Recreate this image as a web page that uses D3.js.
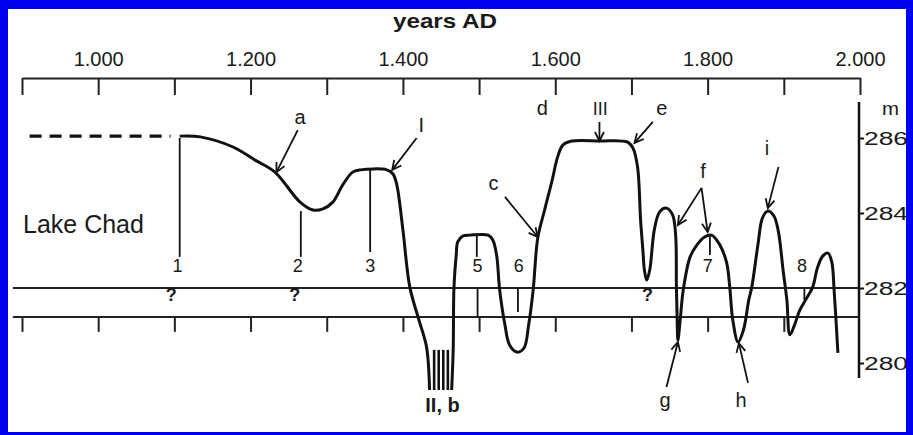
<!DOCTYPE html>
<html>
<head>
<meta charset="utf-8">
<script src="https://cdn.jsdelivr.net/npm/d3@7"></script>
<style>
  html, body { margin: 0; padding: 0; background: #fff; }
  svg { display: block; }
  text { font-family: "Liberation Sans", Arial, Helvetica, sans-serif; fill: #1a1a1a; }
</style>
</head>
<body>
<svg id="chart" width="913" height="435"></svg>
<script>
// ---- data -------------------------------------------------------------
const yearTicks  = [900, 1000, 1100, 1200, 1300, 1400, 1500, 1600, 1700, 1800, 1900, 2000];
const yearLabels = [1000, 1200, 1400, 1600, 1800, 2000];
const levelTicks = [280, 282, 284, 286];

// uncertain early level (dashed)
const dashedYears  = [910, 1095];
const dashedLevels = [286.05, 286.05];

// lake level before the 15th-century low stand (year, m)
const levelYearsA = [1107, 1134, 1177, 1206, 1232, 1265, 1282, 1295, 1308, 1321, 1334, 1344,
                     1379, 1387, 1392, 1400, 1409, 1421, 1431, 1435];
const levelsA     = [286.05, 286.03, 285.76, 285.41, 285.09, 284.29, 284.08, 284.11, 284.29, 284.75, 285.09, 285.15,
                     285.15, 285.04, 284.75, 283.55, 282.03, 281.15, 280.43, 279.28];

// lake level after the low stand
const levelYearsB = [1464, 1466, 1467, 1470, 1472, 1479, 1488, 1512, 1518, 1523, 1527, 1534, 1540, 1550, 1559,
                     1565, 1571, 1577, 1586, 1596, 1603, 1610, 1622, 1658, 1695, 1702, 1708, 1712, 1715, 1717,
                     1720, 1724, 1730, 1737, 1746, 1754, 1758, 1759, 1760, 1761, 1764, 1768, 1777, 1786, 1796,
                     1805, 1816, 1825, 1829, 1833, 1840, 1847, 1854, 1858, 1866, 1872, 1879, 1887, 1893, 1899,
                     1904, 1908, 1914, 1921, 1930, 1938, 1944, 1951, 1958, 1963, 1966, 1971];
const levelsB     = [279.28, 280.35, 282.0, 282.88, 283.23, 283.39, 283.41, 283.41, 283.28, 282.88, 281.95, 281.01, 280.48, 280.29, 280.4,
                     281.01, 281.95, 283.33, 284.08, 284.88, 285.49, 285.81, 285.92, 285.92, 285.89, 285.73, 285.23, 283.81, 283.01, 282.48,
                     282.21, 282.48, 283.55, 284.03, 284.13, 283.95, 283.41, 282.03, 281.15, 280.61, 281.15, 281.95, 282.83, 283.15, 283.36,
                     283.41, 283.15, 282.67, 282.03, 281.15, 280.56, 280.88, 281.68, 282.03, 283.15, 283.87, 284.05, 283.92, 283.49, 282.48,
                     281.68, 280.75, 281.01, 281.41, 281.73, 282.03, 282.53, 282.85, 282.93, 282.69, 281.95, 280.27];

// hatching of the low stand (II, b)
const hatchYears = [1441, 1447, 1453, 1459];
const hatchRange = [279.28, 280.35];

// reference levels
const refLevel  = 282.0;
const baseLevel = 281.23;
const lineYears = [888, 2000];

// numbered dated sites: year, top level, bottom level
const siteNames  = ["1", "2", "3", "5", "6", "7", "8", ""];
const siteYears  = [1107, 1266, 1357, 1497, 1551, 1803, 1927, 1498];
const siteTops   = [286.0, 284.05, 285.15, 283.41, 282.0, 283.41, 282.0, 282.0];
const siteBottoms= [282.83, 282.83, 282.96, 282.83, 281.36, 282.88, 281.68, 281.23];
const siteLabelYears = [1104, 1262, 1357, 1498, 1552, 1800, 1924];
const labelLevel = 282.43;

// uncertain dates
const queryYears = [1096, 1258, 1721];
const queryLevel = 281.66;

// lettered events: text position and arrow
const noteNames  = ["a", "I", "d", "III", "e", "c", "f", "i", "g", "h", "II, b"];
const noteYears  = [1265, 1424, 1583, 1659, 1740, 1519, 1794, 1878, 1744, 1844, 1452];
const noteLevels = [286.37, 286.16, 286.61, 286.61, 286.61, 284.61, 284.93, 285.55, 278.83, 278.83, 278.69];
const arrowFrom  = [[1262, 286.21], [1418, 286.0], null, [1658, 286.43], [1728, 286.43], [1534, 284.43],
                    [1792, 284.67], [1893, 285.23], [1746, 279.36], [1853, 279.47], null];
const arrowTo    = [[1234, 285.09], [1386, 285.15], null, [1658, 285.92], [1704, 285.87], [1577, 283.36],
                    [1761, 283.68], [1879, 284.13], [1761, 280.56], [1841, 280.53], null];
const arrowTo2   = [null, null, null, null, null, null, [1800, 283.49], null, null, null, null];

const lakeName = "Lake Chad";
const xTitle = "years AD";
const yUnit = "m";

// ---- layout -----------------------------------------------------------
const W = 913, H = 435;
const svg = d3.select("#chart");
const x = d3.scaleLinear().domain([900, 2000]).range([22, 860]);
const y = d3.scaleLinear().domain([280, 286]).range([363, 138]);
const ink = "#111";

svg.append("rect").attr("width", W).attr("height", H).attr("fill", "#fff");

// reference lines
[refLevel, baseLevel].forEach(lv => {
  svg.append("line")
    .attr("x1", x(lineYears[0])).attr("x2", x(lineYears[1]))
    .attr("y1", y(lv)).attr("y2", y(lv))
    .attr("stroke", "#222").attr("stroke-width", 2);
});

// top time axis
const de = d3.formatLocale({decimal: ",", thousands: ".", grouping: [3], currency: ["", "€"]});
const fmt = de.format(",d");
const topAxis = d3.axisTop(x)
  .tickValues(yearTicks)
  .tickSizeInner(-17).tickSizeOuter(0).tickPadding(12)
  .tickFormat(d => yearLabels.includes(d) ? fmt(d) : "");
const gTop = svg.append("g").attr("transform", "translate(0,78)").call(topAxis);
gTop.select(".domain").attr("stroke", "#222").attr("stroke-width", 2);
gTop.selectAll(".tick line").attr("stroke", "#222").attr("stroke-width", 2);
gTop.selectAll(".tick text").attr("font-size", 20).attr("fill", "#1a1a1a")
  .style("font-family", "'Liberation Sans', Arial, sans-serif");

svg.append("text").attr("x", 445).attr("y", 28).attr("text-anchor", "middle")
  .attr("font-size", 21).attr("font-weight", "bold")
  .attr("textLength", 104).attr("lengthAdjust", "spacingAndGlyphs")
  .text(xTitle);

// lower time ticks
const botAxis = d3.axisBottom(x)
  .tickValues(yearTicks.filter(d => d < 2000))
  .tickSizeInner(15).tickSizeOuter(0).tickFormat("");
const gBot = svg.append("g").attr("transform", `translate(0,${y(baseLevel)})`).call(botAxis);
gBot.select(".domain").remove();
gBot.selectAll(".tick line").attr("stroke", "#222").attr("stroke-width", 2);

// right level axis
const rightAxis = d3.axisRight(y).tickValues(levelTicks).tickSize(5).tickPadding(0)
  .tickFormat(d3.format("d"));
const gRight = svg.append("g").attr("transform", "translate(859,0)").call(rightAxis);
gRight.select(".domain").remove();
gRight.append("line").attr("x1", 0).attr("x2", 0)
  .attr("y1", y(286.96)).attr("y2", y(279.6))
  .attr("stroke", "#111").attr("stroke-width", 2.5);
gRight.selectAll(".tick line").attr("stroke", "#111").attr("stroke-width", 2);
gRight.selectAll(".tick text").attr("font-size", 18).attr("fill", "#1a1a1a")
  .attr("dy", "0.36em")
  .attr("textLength", 44).attr("lengthAdjust", "spacingAndGlyphs")
  .style("font-family", "'Liberation Sans', Arial, sans-serif");
svg.append("text").attr("x", 882).attr("y", 115).attr("font-size", 18)
  .attr("textLength", 17).attr("lengthAdjust", "spacingAndGlyphs").text(yUnit);

// dated sites
siteYears.forEach((yr, i) => {
  svg.append("line")
    .attr("x1", x(yr)).attr("x2", x(yr))
    .attr("y1", y(siteTops[i])).attr("y2", y(siteBottoms[i]))
    .attr("stroke", ink).attr("stroke-width", 1.8);
});
siteLabelYears.forEach((yr, i) => {
  svg.append("text").attr("x", x(yr)).attr("y", y(labelLevel))
    .attr("text-anchor", "middle").attr("font-size", 18).text(siteNames[i]);
});
queryYears.forEach(yr => {
  svg.append("text").attr("x", x(yr)).attr("y", y(queryLevel))
    .attr("text-anchor", "middle").attr("font-size", 18).attr("font-weight", "bold").text("?");
});

// lake level curve
const line = d3.line().x(d => x(d[0])).y(d => y(d[1])).curve(d3.curveCatmullRom.alpha(0.5));
svg.append("path")
  .attr("d", d3.line().x(d => x(d[0])).y(d => y(d[1]))(dashedYears.map((d, i) => [d, dashedLevels[i]])))
  .attr("fill", "none").attr("stroke", ink).attr("stroke-width", 3.2)
  .attr("stroke-dasharray", "12 8");
svg.append("path")
  .attr("d", line(levelYearsA.map((d, i) => [d, levelsA[i]])))
  .attr("fill", "none").attr("stroke", ink).attr("stroke-width", 3).attr("stroke-linejoin", "round");
svg.append("path")
  .attr("d", line(levelYearsB.map((d, i) => [d, levelsB[i]])))
  .attr("fill", "none").attr("stroke", ink).attr("stroke-width", 3).attr("stroke-linejoin", "round");
hatchYears.forEach(yr => {
  svg.append("line").attr("x1", x(yr)).attr("x2", x(yr))
    .attr("y1", y(hatchRange[1])).attr("y2", y(hatchRange[0]))
    .attr("stroke", ink).attr("stroke-width", 2.6);
});

// annotation arrows
svg.append("defs").append("marker")
  .attr("id", "head").attr("viewBox", "-10 -6 12 12")
  .attr("refX", 0).attr("refY", 0)
  .attr("markerWidth", 12).attr("markerHeight", 12)
  .attr("markerUnits", "userSpaceOnUse").attr("orient", "auto")
  .append("path").attr("d", "M-9,-4.5 L0,0 L-9,4.5")
  .attr("fill", "none").attr("stroke", ink).attr("stroke-width", 1.8);

const arrow = (from, to) => svg.append("line")
  .attr("x1", x(from[0])).attr("y1", y(from[1]))
  .attr("x2", x(to[0])).attr("y2", y(to[1]))
  .attr("stroke", ink).attr("stroke-width", 1.8).attr("marker-end", "url(#head)");

noteNames.forEach((name, i) => {
  svg.append("text").attr("x", x(noteYears[i])).attr("y", y(noteLevels[i]))
    .attr("text-anchor", "middle").attr("font-size", name === "III" ? 18 : 20)
    .attr("font-weight", name === "II, b" ? "bold" : null).text(name);
  if (arrowFrom[i]) arrow(arrowFrom[i], arrowTo[i]);
  if (arrowTo2[i]) arrow(arrowFrom[i], arrowTo2[i]);
});

svg.append("text").attr("x", 23).attr("y", 233).attr("font-size", 25).text(lakeName);

// blue frame
svg.append("path")
  .attr("d", `M0,0H${W}V${H}H0Z M8,9V432H906V9Z`)
  .attr("fill", "#0000f0").attr("fill-rule", "evenodd");
</script>
</body>
</html>
